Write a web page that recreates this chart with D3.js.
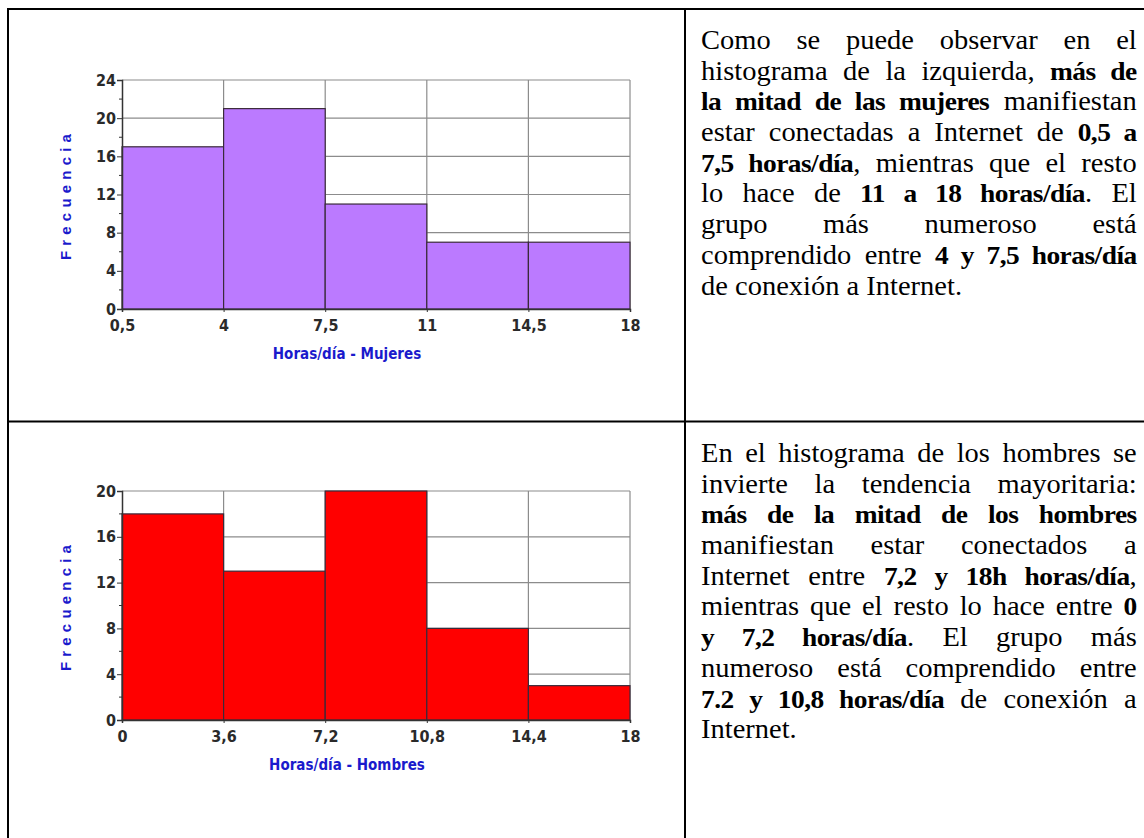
<!DOCTYPE html>
<html>
<head>
<meta charset="utf-8">
<script src="https://cdn.jsdelivr.net/npm/d3@7"></script>
<style>
  body { margin: 0; background: #fff; }
  #page { position: relative; width: 1144px; height: 838px; overflow: hidden; }
  svg { position: absolute; left: 0; top: 0; }
  .texto {
    position: absolute;
    width: 413px;
    font-family: "Liberation Serif", "Times New Roman", serif;
    font-size: 27px;
    line-height: 30.7px;
    color: #000;
    transform: scale(1.055, 1);
    transform-origin: 0 0;
  }
  .linea { text-align: justify; text-align-last: justify; height: 30.7px; }
  .linea.ultima { text-align-last: left; }
  .texto b { font-size: 26px; letter-spacing: -0.5px; }
</style>
</head>
<body>
<div id="page"></div>
<script>
// datos de los dos histogramas
var limitesMujeres = [0.5, 4, 7.5, 11, 14.5, 18];
var frecuenciaMujeres = [17, 21, 11, 7, 7];
var limitesHombres = [0, 3.6, 7.2, 10.8, 14.4, 18];
var frecuenciaHombres = [18, 13, 20, 8, 3];
var ticksYMujeres = [0, 4, 8, 12, 16, 20, 24];
var ticksYHombres = [0, 4, 8, 12, 16, 20];

// texto, linea a linea como en el original
var lineasMujeres = [
    'Como se puede observar en el',
    'histograma de la izquierda, <b>más de</b>',
    '<b>la mitad de las mujeres</b> manifiestan',
    'estar conectadas a Internet de <b>0,5 a</b>',
    '<b>7,5 horas/día</b>, mientras que el resto',
    'lo hace de <b>11 a 18 horas/día</b>. El',
    'grupo más numeroso está',
    'comprendido entre <b>4 y 7,5 horas/día</b>',
    'de conexión a Internet.'
];
var lineasHombres = [
    'En el histograma de los hombres se',
    'invierte la tendencia mayoritaria:',
    '<b>más de la mitad de los hombres</b>',
    'manifiestan estar conectados a',
    'Internet entre <b>7,2 y 18h horas/día</b>,',
    'mientras que el resto lo hace entre <b>0</b>',
    '<b>y 7,2 horas/día</b>. El grupo más',
    'numeroso está comprendido entre',
    '<b>7.2 y 10,8 horas/día</b> de conexión a',
    'Internet.'
];

var fuenteEje = "DejaVu Sans Condensed, Liberation Sans Narrow, sans-serif";

var page = d3.select("#page");
var svg = page.append("svg").attr("width", 1144).attr("height", 838);

// marco de la tabla
var marco = svg.append("g").attr("stroke", "#000").attr("stroke-width", 2);
marco.append("line").attr("x1", 7).attr("x2", 1144).attr("y1", 9).attr("y2", 9);
marco.append("line").attr("x1", 8).attr("x2", 8).attr("y1", 8).attr("y2", 838);
marco.append("line").attr("x1", 685).attr("x2", 685).attr("y1", 8).attr("y2", 838);
marco.append("line").attr("x1", 7).attr("x2", 1144).attr("y1", 421.5).attr("y2", 421.5);

var coma = function (d) { return String(d).replace(".", ","); };

function histograma(top, limites, frecuencias, ticksY, color, tituloX) {
    var alto = 229;
    var x = d3.scaleLinear().domain([limites[0], limites[limites.length - 1]]).range([122, 630]);
    var y = d3.scaleLinear().domain([0, d3.max(ticksY)]).range([top + alto, top]);
    var g = svg.append("g");

    // rejilla
    g.append("g").selectAll("line.h")
        .data(ticksY.slice(1))
        .enter().append("line")
        .attr("x1", x.range()[0]).attr("x2", x.range()[1])
        .attr("y1", function (d) { return y(d); }).attr("y2", function (d) { return y(d); })
        .attr("stroke", "#8c8c8c").attr("stroke-width", 1.2);
    g.append("g").selectAll("line.v")
        .data(limites.slice(1))
        .enter().append("line")
        .attr("x1", function (d) { return x(d); }).attr("x2", function (d) { return x(d); })
        .attr("y1", y.range()[1]).attr("y2", y.range()[0])
        .attr("stroke", "#8c8c8c").attr("stroke-width", 1.2);

    // barras
    var bins = frecuencias.map(function (f, i) { return { x0: limites[i], x1: limites[i + 1], f: f }; });
    g.selectAll("rect.barra")
        .data(bins)
        .enter().append("rect")
        .attr("class", "barra")
        .attr("x", function (d) { return x(d.x0); })
        .attr("width", function (d) { return x(d.x1) - x(d.x0); })
        .attr("y", function (d) { return y(d.f); })
        .attr("height", function (d) { return y(0) - y(d.f); })
        .attr("fill", color)
        .attr("stroke", "#3a2a3a").attr("stroke-width", 1.2);

    // ejes
    var ejeY = g.append("g")
        .attr("transform", "translate(" + x.range()[0] + ",0)")
        .call(d3.axisLeft(y).tickValues(ticksY).tickSize(5).tickPadding(1));
    ejeY.select(".domain").attr("stroke", "#333").attr("stroke-width", 1.5);
    ejeY.selectAll(".tick line").attr("stroke", "#333");
    // marcas menores
    g.append("g").selectAll("line.menor")
        .data(d3.range(2, d3.max(ticksY), 4))
        .enter().append("line")
        .attr("x1", x.range()[0] - 3).attr("x2", x.range()[0])
        .attr("y1", function (d) { return y(d); }).attr("y2", function (d) { return y(d); })
        .attr("stroke", "#333");

    var ejeX = g.append("g")
        .attr("transform", "translate(0," + y(0) + ")")
        .call(d3.axisBottom(x).tickValues(limites).tickFormat(coma).tickSize(3).tickPadding(8));
    ejeX.select(".domain").attr("stroke", "#333").attr("stroke-width", 1.5);
    ejeX.selectAll(".tick line").attr("stroke", "#333");

    g.selectAll(".tick text")
        .attr("font-family", fuenteEje)
        .attr("font-weight", "bold")
        .attr("font-size", 16)
        .attr("fill", "#2a2a2a");

    // titulos
    g.append("text")
        .attr("x", 347).attr("y", y(0) + 50)
        .attr("text-anchor", "middle")
        .attr("font-family", fuenteEje)
        .attr("font-weight", "bold")
        .attr("font-size", 15)
        .attr("fill", "#1a1acc")
        .text(tituloX);
    g.append("text")
        .attr("transform", "translate(71," + (top + alto / 2) + ") rotate(-90)")
        .attr("text-anchor", "middle")
        .attr("font-family", "Liberation Sans, Arial, sans-serif")
        .attr("font-weight", "bold")
        .attr("font-size", 15)
        .attr("letter-spacing", "5.2px")
        .attr("fill", "#1a1acc")
        .text("Frecuencia");
}

histograma(80, limitesMujeres, frecuenciaMujeres, ticksYMujeres, "#bb7aff", "Horas/día - Mujeres");
histograma(491, limitesHombres, frecuenciaHombres, ticksYHombres, "#ff0000", "Horas/día - Hombres");

function parrafo(top, lineas) {
    page.append("div").attr("class", "texto")
        .style("left", "701px").style("top", top + "px")
        .selectAll("div")
        .data(lineas)
        .enter().append("div")
        .attr("class", function (d, i) { return i === lineas.length - 1 ? "linea ultima" : "linea"; })
        .html(function (d) { return d; });
}
parrafo(25, lineasMujeres);
parrafo(438, lineasHombres);
</script>
</body>
</html>
